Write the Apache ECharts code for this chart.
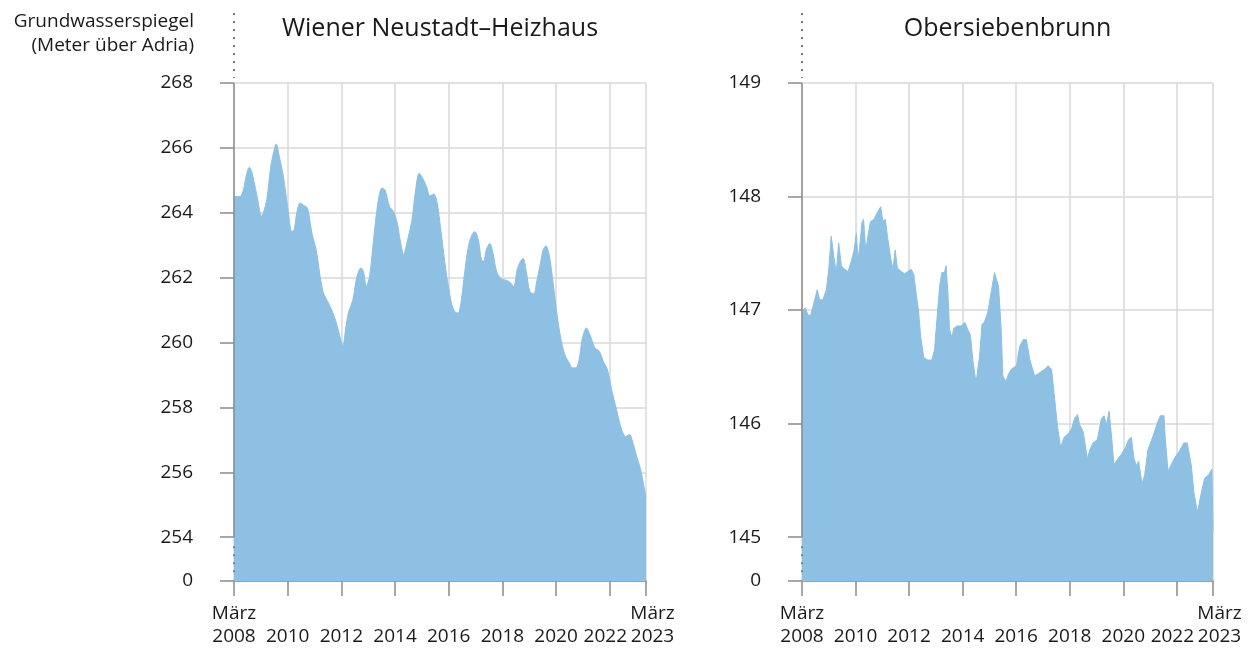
<!DOCTYPE html>
<html>
<head>
<meta charset="utf-8">
<script src="https://cdn.jsdelivr.net/npm/echarts@6/dist/echarts.min.js"></script>
<style>
  html, body { margin: 0; padding: 0; background: #fff; }
  #chart { width: 1256px; height: 648px; }
</style>
</head>
<body>
<div id="chart"></div>
<script>
// Wiener Neustadt–Heizhaus (Meter über Adria)
const wnYears = [2008.00, 2008.22, 2008.35, 2008.45, 2008.57, 2008.66, 2008.85, 2009.03, 2009.09, 2009.22,
  2009.37, 2009.47, 2009.57, 2009.69, 2009.84, 2010.03, 2010.15, 2010.24, 2010.34, 2010.46,
  2010.61, 2010.74, 2010.90, 2011.06, 2011.21, 2011.33, 2011.52, 2011.71, 2011.85, 2011.96,
  2012.06, 2012.14, 2012.26, 2012.43, 2012.58, 2012.73, 2012.82, 2012.93, 2013.05, 2013.20,
  2013.36, 2013.51, 2013.63, 2013.79, 2013.94, 2014.07, 2014.19, 2014.32, 2014.44, 2014.63,
  2014.75, 2014.90, 2015.06, 2015.19, 2015.29, 2015.44, 2015.56, 2015.72, 2015.91, 2016.10,
  2016.22, 2016.35, 2016.47, 2016.59, 2016.72, 2016.84, 2016.97, 2017.09, 2017.22, 2017.30,
  2017.40, 2017.53, 2017.65, 2017.78, 2017.96, 2018.15, 2018.30, 2018.42, 2018.55, 2018.67,
  2018.77, 2018.90, 2019.02, 2019.17, 2019.27, 2019.42, 2019.52, 2019.62, 2019.74, 2019.89,
  2020.01, 2020.16, 2020.32, 2020.49, 2020.61, 2020.74, 2020.86, 2020.97, 2021.13, 2021.28,
  2021.44, 2021.61, 2021.76, 2021.91, 2022.07, 2022.25, 2022.44, 2022.60, 2022.73, 2022.88,
  2023.00, 2023.15, 2023.27, 2023.35]
const wnLevels = [264.50, 264.50, 264.70, 265.12, 265.40, 265.27, 264.55, 263.89, 263.99, 264.40,
  265.43, 265.84, 266.12, 265.73, 265.12, 263.99, 263.42, 263.48, 264.00, 264.30,
  264.22, 264.14, 263.38, 262.86, 262.04, 261.53, 261.22, 260.86, 260.50, 260.14,
  259.89, 260.30, 260.91, 261.32, 262.04, 262.30, 262.20, 261.73, 262.04, 263.17,
  264.30, 264.76, 264.70, 264.20, 264.04, 263.73, 263.17, 262.71, 263.07, 263.78,
  264.60, 265.22, 265.02, 264.76, 264.52, 264.58, 264.35, 263.38, 262.14, 261.22,
  260.96, 260.91, 261.32, 262.14, 262.91, 263.27, 263.42, 263.22, 262.55, 262.50,
  262.86, 263.05, 262.76, 262.20, 261.96, 261.92, 261.84, 261.72, 262.25, 262.50,
  262.60, 262.14, 261.58, 261.50, 261.84, 262.45, 262.86, 262.98, 262.71, 261.84,
  261.02, 260.20, 259.63, 259.37, 259.22, 259.22, 259.48, 260.09, 260.45, 260.20,
  259.84, 259.73, 259.42, 259.17, 258.55, 257.94, 257.32, 257.10, 257.17, 256.86,
  256.50, 256.09, 255.58, 255.25]

// Obersiebenbrunn
const obYears = [2008.00, 2008.12, 2008.22, 2008.32, 2008.41, 2008.47, 2008.57, 2008.66, 2008.78, 2008.91,
  2009.00, 2009.09, 2009.19, 2009.28, 2009.37, 2009.47, 2009.59, 2009.72, 2009.84, 2009.94,
  2010.03, 2010.09, 2010.15, 2010.24, 2010.30, 2010.38, 2010.46, 2010.56, 2010.69, 2010.79,
  2010.86, 2010.94, 2011.02, 2011.11, 2011.21, 2011.31, 2011.40, 2011.48, 2011.56, 2011.71,
  2011.83, 2011.96, 2012.08, 2012.18, 2012.26, 2012.35, 2012.43, 2012.48, 2012.55, 2012.70,
  2012.85, 2012.95, 2013.05, 2013.14, 2013.22, 2013.32, 2013.38, 2013.45, 2013.51, 2013.60,
  2013.67, 2013.79, 2013.94, 2014.09, 2014.19, 2014.29, 2014.38, 2014.50, 2014.63, 2014.72,
  2014.82, 2014.94, 2015.06, 2015.19, 2015.25, 2015.34, 2015.44, 2015.50, 2015.62, 2015.70,
  2015.82, 2016.01, 2016.13, 2016.26, 2016.38, 2016.51, 2016.69, 2016.88, 2017.07, 2017.19,
  2017.32, 2017.44, 2017.54, 2017.66, 2017.79, 2017.94, 2018.06, 2018.19, 2018.29, 2018.37,
  2018.50, 2018.66, 2018.75, 2018.87, 2019.03, 2019.18, 2019.28, 2019.37, 2019.47, 2019.56,
  2019.65, 2019.80, 2019.93, 2020.08, 2020.20, 2020.30, 2020.40, 2020.49, 2020.57, 2020.70,
  2020.80, 2020.92, 2021.11, 2021.29, 2021.39, 2021.52, 2021.57, 2021.67, 2021.77, 2021.92,
  2022.10, 2022.26, 2022.39, 2022.54, 2022.64, 2022.77, 2022.91, 2023.04, 2023.19, 2023.31,
  2023.35]
const obLevels = [146.99, 147.02, 146.96, 146.95, 147.03, 147.02, 147.18, 147.09, 147.09, 147.18,
  147.36, 147.65, 147.47, 147.33, 147.59, 147.39, 147.36, 147.34, 147.43, 147.52,
  147.68, 147.44, 147.55, 147.77, 147.80, 147.52, 147.65, 147.78, 147.80, 147.85,
  147.88, 147.91, 147.78, 147.80, 147.62, 147.46, 147.36, 147.53, 147.37, 147.34,
  147.32, 147.34, 147.36, 147.31, 147.15, 147.00, 146.77, 146.78, 146.58, 146.56,
  146.56, 146.65, 146.95, 147.21, 147.33, 147.33, 147.39, 147.15, 146.83, 146.76,
  146.84, 146.86, 146.86, 146.89, 146.83, 146.78, 146.56, 146.36, 146.59, 146.87,
  146.90, 146.98, 147.15, 147.33, 147.34, 147.21, 146.83, 146.42, 146.37, 146.43,
  146.48, 146.51, 146.68, 146.74, 146.74, 146.56, 146.42, 146.45, 146.48, 146.51,
  146.48, 146.21, 145.98, 145.79, 145.88, 145.91, 145.95, 146.05, 146.08, 145.99,
  145.93, 145.69, 145.77, 145.83, 145.86, 146.04, 146.07, 145.99, 146.11, 145.89,
  145.64, 145.69, 145.73, 145.79, 145.86, 145.88, 145.69, 145.63, 145.67, 145.47,
  145.55, 145.77, 145.89, 146.02, 146.07, 146.07, 145.86, 145.58, 145.63, 145.70,
  145.76, 145.83, 145.83, 145.63, 145.39, 145.22, 145.39, 145.52, 145.55, 145.60,
  145.05]

// Achsen
const xTicks = [2008, 2010, 2012, 2014, 2016, 2018, 2020, 2022, 2023.35]
const xTickLabels = ['März\n2008', '\n2010', '\n2012', '\n2014', '\n2016', '\n2018', '\n2020',
  '\n{prev|2022}', '{last|März}\n{last|2023}']
const wnAxis = { min: 0, breakEnd: 254, max: 268, interval: 2 }
const obAxis = { min: 0, breakEnd: 145, max: 149, interval: 1 }

const FONT = '"Open Sans", "Noto Sans", sans-serif'
const TEXT = '#1a1a1a'
const AXIS = '#8c8c8c'
const GRID = '#d9d9d9'
const AREA = '#8dc0e3'

const chart = echarts.init(document.getElementById('chart'), null, { renderer: 'canvas' })

const labelText = { fontSize: 19, lineHeight: 23, fontFamily: FONT, color: TEXT }
const xMin = xTicks[0]
const xMax = xTicks[xTicks.length - 1]
const lastTick = [xMax]

const tickLabel = (v) => {
  const i = xTicks.findIndex((t) => Math.abs(t - v) < 0.01)
  return i < 0 ? '' : xTickLabels[i]
}

const labelRich = {
  prev: { ...labelText, padding: [0, 9, 0, 0] },
  last: { ...labelText, padding: [0, 0, 0, 13] }
}

// Hauptachse: Linie, Ticks, Gitter, Beschriftungen bis 2022
const makeX = (gridIndex) => ({
  type: 'value',
  gridIndex,
  min: xMin,
  max: xMax,
  axisLine: { lineStyle: { color: AXIS, width: 1.5 } },
  axisTick: { length: 15, customValues: xTicks, lineStyle: { color: AXIS, width: 1.5 } },
  axisLabel: {
    customValues: xTicks.slice(0, -1),
    hideOverlap: false,
    margin: 21,
    ...labelText,
    formatter: tickLabel,
    rich: labelRich
  },
  splitLine: { show: true, lineStyle: { color: GRID, width: 1.5 } }
})

// Zweitachse nur für die Beschriftung "März 2023" am Ende
const makeXEnd = (gridIndex) => ({
  type: 'value',
  gridIndex,
  min: xMin,
  max: xMax,
  position: 'bottom',
  axisLine: { show: false },
  axisTick: { show: false },
  splitLine: { show: false },
  axisLabel: {
    customValues: lastTick,
    showMaxLabel: true,
    hideOverlap: false,
    margin: 21,
    ...labelText,
    formatter: tickLabel,
    rich: labelRich
  }
})

const makeY = (gridIndex, ax) => ({
  type: 'value',
  gridIndex,
  min: ax.min,
  max: ax.max,
  interval: ax.interval,
  breaks: [{ start: ax.min, end: ax.breakEnd, gap: '8.8%' }],
  breakArea: { show: false },
  axisLine: { show: false },
  axisTick: { show: true, length: 14, lineStyle: { color: AXIS, width: 1.5 } },
  axisLabel: { margin: 41, fontSize: 19, fontFamily: FONT, color: TEXT },
  splitLine: { show: true, lineStyle: { color: GRID, width: 1.5 } }
})

const makeSeries = (idx, xs, ys, smooth) => ({
  type: 'line',
  xAxisIndex: idx,
  yAxisIndex: idx,
  data: xs.map((x, i) => [x, ys[i]]),
  smooth,
  showSymbol: false,
  lineStyle: { color: AREA, width: 1 },
  areaStyle: { color: AREA, opacity: 1 },
  silent: true
})

chart.setOption({
  animation: false,
  backgroundColor: '#fff',
  grid: [
    { left: 234, right: 610, top: 83, bottom: 66, containLabel: false },
    { left: 802, right: 43, top: 83, bottom: 66, containLabel: false }
  ],
  xAxis: [makeX(0), makeX(1), makeXEnd(0), makeXEnd(1)],
  yAxis: [makeY(0, wnAxis), makeY(1, obAxis)],
  series: [
    makeSeries(0, wnYears, wnLevels, 0.3),
    makeSeries(1, obYears, obLevels, false)
  ]
})

// Achsenlinie mit gepunkteten Abschnitten (Bruch) und Titel
const axisDecor = (gridIndex, ax) => {
  const top = chart.convertToPixel({ gridIndex }, [xMin, ax.max])
  const brk = chart.convertToPixel({ gridIndex }, [xMin, ax.breakEnd])
  const zero = chart.convertToPixel({ gridIndex }, [xMin, ax.min])
  const dotted = { stroke: '#808080', lineWidth: 2, lineDash: [2, 6] }
  return [
    { type: 'line', z: 100, shape: { x1: top[0], y1: top[1], x2: brk[0], y2: brk[1] }, style: { stroke: AXIS, lineWidth: 1.5 } },
    { type: 'line', z: 100, shape: { x1: brk[0], y1: brk[1] + 9, x2: zero[0], y2: zero[1] - 3 }, style: dotted },
    { type: 'line', z: 100, shape: { x1: top[0], y1: 13, x2: top[0], y2: top[1] - 5 }, style: dotted }
  ]
}

const centerOf = (gridIndex) => {
  const a = chart.convertToPixel({ gridIndex }, [xMin, 0])
  const b = chart.convertToPixel({ gridIndex }, [xMax, 0])
  return (a[0] + b[0]) / 2
}

chart.setOption({
  graphic: [
    ...axisDecor(0, wnAxis),
    ...axisDecor(1, obAxis),
    {
      type: 'text', x: centerOf(0), y: 29, z: 100,
      style: { text: 'Wiener Neustadt–Heizhaus', fontSize: 25, fontFamily: FONT, fill: TEXT, textAlign: 'center', textVerticalAlign: 'middle' }
    },
    {
      type: 'text', x: centerOf(1), y: 29, z: 100,
      style: { text: 'Obersiebenbrunn', fontSize: 25, fontFamily: FONT, fill: TEXT, textAlign: 'center', textVerticalAlign: 'middle' }
    },
    {
      type: 'text', x: 194, y: 10, z: 100,
      style: { text: 'Grundwasserspiegel\n(Meter über Adria)', fontSize: 19, lineHeight: 24, fontFamily: FONT, fill: TEXT, textAlign: 'right', textVerticalAlign: 'top' }
    }
  ]
})
</script>
</body>
</html>
